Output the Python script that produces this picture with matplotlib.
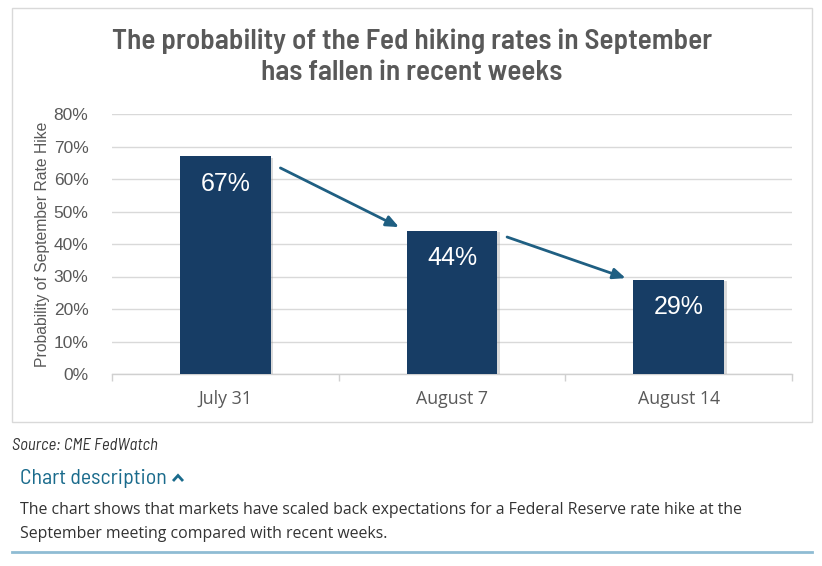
import matplotlib
matplotlib.use("Agg")
import matplotlib.pyplot as plt
from matplotlib.patches import Rectangle
from matplotlib.lines import Line2D
import matplotlib.patheffects as pe
import numpy as np

categories = ["July 31", "August 7", "August 14"]
probabilities = [0.67, 0.44, 0.29]
value_labels = ["67%", "44%", "29%"]
y_ticks = [0.0, 0.1, 0.2, 0.3, 0.4, 0.5, 0.6, 0.7, 0.8]
y_tick_labels = ["0%", "10%", "20%", "30%", "40%", "50%", "60%", "70%", "80%"]

title = "The probability of the Fed hiking rates in September\nhas fallen in recent weeks"
ylabel = "Probability of September Rate Hike"
source = "Source: CME FedWatch"
desc_head = "Chart description"
desc_text = ("The chart shows that markets have scaled back expectations for a Federal Reserve rate hike at the\n"
             "September meeting compared with recent weeks.")

COND = ["Barlow Semi Condensed", "DejaVu Sans"]

W, H = 822, 566
fig = plt.figure(figsize=(W / 100, H / 100), dpi=100)
fig.patch.set_facecolor("white")

def fx(px):
    return px / W

def fy(py):
    return 1 - py / H

# outer box
fig.patches.append(Rectangle((fx(12), fy(422)), fx(812) - fx(12), fy(8) - fy(422),
                             transform=fig.transFigure, fill=False, edgecolor="#d9d9d9", lw=1.0))

ax = fig.add_axes([fx(112), fy(374), fx(792) - fx(112), fy(114) - fy(374)])
x = np.arange(len(categories))
bar_color = "#173d65"
bars = ax.bar(x, probabilities, width=0.40, color=bar_color, zorder=3)
for b in bars:
    b.set_path_effects([pe.SimplePatchShadow(offset=(2.0, -1.0), shadow_rgbFace="#999999", alpha=0.35),
                        pe.Normal()])

ax.set_xlim(-0.5, len(categories) - 0.5)
ax.set_ylim(0, 0.8)
ax.set_yticks(y_ticks)
ax.set_yticklabels(y_tick_labels, fontsize=12.5, color="#595959", family="Liberation Sans")
ax.yaxis.grid(True, color="#d9d9d9", lw=1.0, zorder=0)
ax.set_axisbelow(True)
ax.tick_params(axis="y", length=0, pad=17)
for s in ["top", "right", "left"]:
    ax.spines[s].set_visible(False)
ax.spines["bottom"].set_color("#d0d0d0")
ax.spines["bottom"].set_linewidth(1.0)

# x ticks at category boundaries
ax.set_xticks(np.arange(-0.5, len(categories), 1.0))
ax.set_xticklabels([""] * (len(categories) + 1))
ax.tick_params(axis="x", length=5, color="#d0d0d0", width=1.0)
for i, c in enumerate(categories):
    ax.text(i, -0.05, c, ha="center", va="top", fontsize=12.8, color="#595959",
            family="Open Sans", transform=ax.transData)

ax.set_ylabel(ylabel, fontsize=11.3, color="#595959", family="Liberation Sans")
ax.yaxis.set_label_coords(-0.091, 0.5)

# value labels
for i, (v, lab) in enumerate(zip(probabilities, value_labels)):
    ax.text(i, v - 0.084, lab, ha="center", va="center", fontsize=18, color="white",
            family="Liberation Sans", zorder=5)

# arrows between bars
arrow_color = "#1f5f82"
offsets_start = [0.036, 0.0185]
offsets_end = [-0.012, -0.005]
for i in range(len(categories) - 1):
    ax.annotate("", xy=(i + 1 - 0.234, probabilities[i + 1] - offsets_end[i]),
                xytext=(i + 0.243, probabilities[i] - offsets_start[i]),
                arrowprops=dict(arrowstyle="-|>,head_length=0.75,head_width=0.32",
                                color=arrow_color, lw=2.0, shrinkA=0, shrinkB=0),
                zorder=4)

# title
fig.text(fx(412), fy(57), title, ha="center", va="center", fontsize=21,
         fontweight="semibold", color="#595959", family=COND, linespacing=1.3)

# source
fig.text(fx(12), fy(446), source, ha="left", va="center", fontsize=12, style="italic",
         color="#333333", family=COND)
fig.text(fx(20), fy(478), desc_head, ha="left", va="center", fontsize=15.8,
         color="#1a6b8c", family=COND)
# chevron
fig.lines.append(Line2D([fx(173), fx(178), fx(183)], [fy(481), fy(475.5), fy(481)],
                        transform=fig.transFigure, color="#1a6b8c", lw=2.0,
                        solid_capstyle="butt", solid_joinstyle="miter"))
fig.text(fx(20), fy(522), desc_text, ha="left", va="center", fontsize=11.4,
         color="#333333", family="Open Sans", linespacing=1.75)

fig.lines.append(Line2D([fx(12), fx(812)], [fy(552), fy(552)], transform=fig.transFigure,
                        color="#8fbcd4", lw=2.0))

fig.savefig("out.png", dpi=100, facecolor="white")
